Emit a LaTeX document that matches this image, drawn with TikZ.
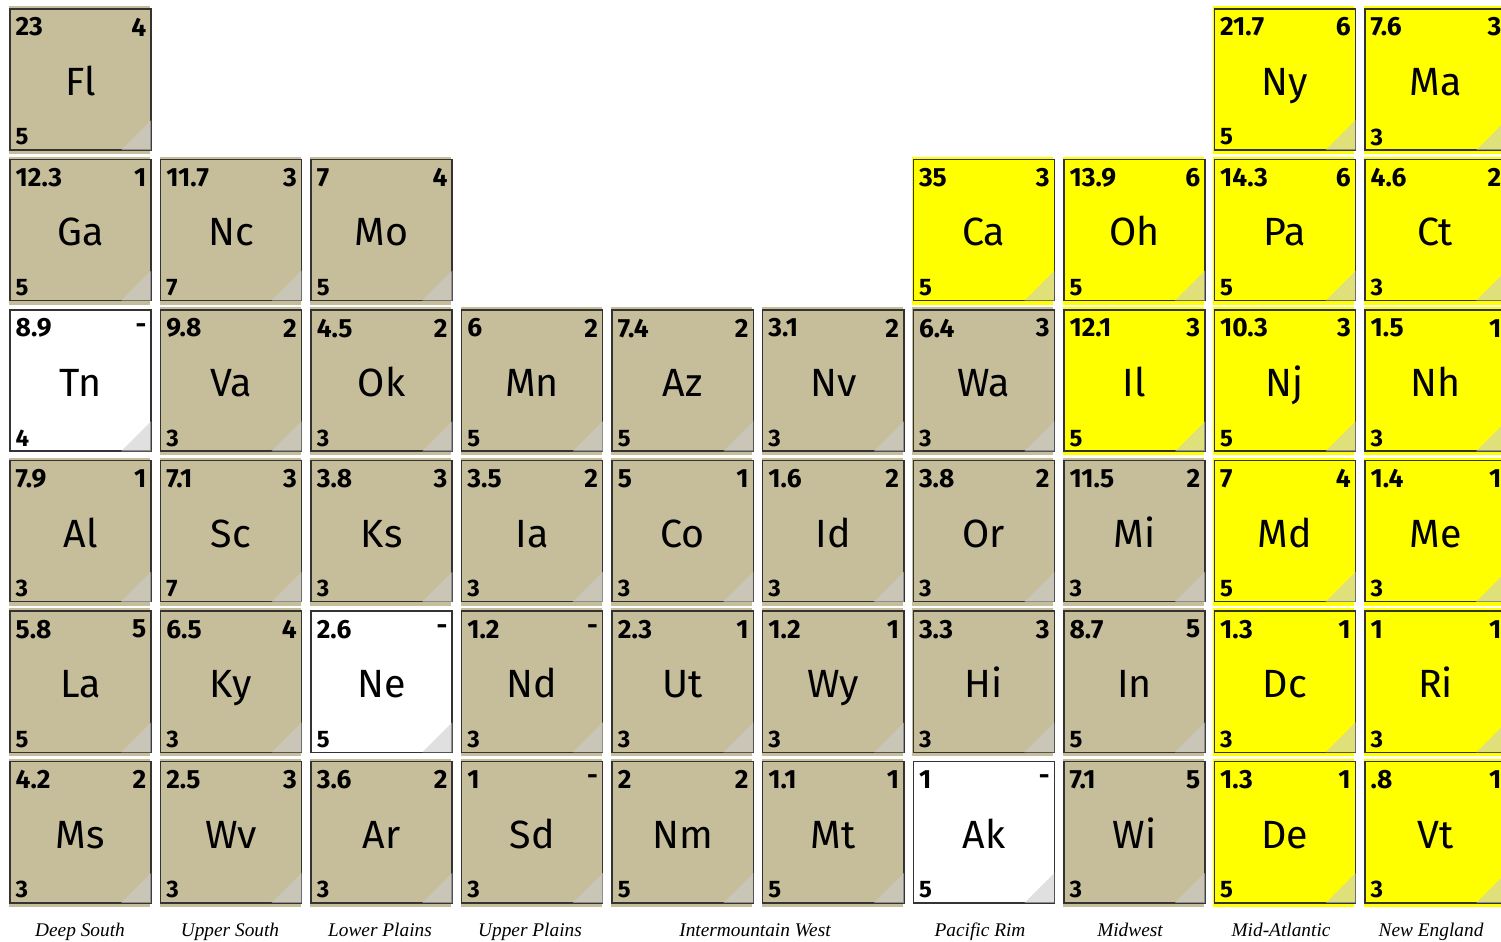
\documentclass[tikz,border=0pt]{standalone}
\usepackage{fontspec}
\newfontfamily\tilefont{Fira Sans}
\newfontfamily\regionfont{Liberation Serif}

\definecolor{regiontan}{RGB}{198,190,154}
\definecolor{regionyellow}{RGB}{255,255,0}

\tikzset{
  tile/.style={draw=black!80, line width=0.4pt, minimum size=1.41cm, inner sep=0pt,
    text height=7.6pt, text depth=0pt, font=\tilefont\fontsize{11.2}{11.2}\selectfont},
  value/.style={anchor=west, inner sep=0pt, font=\tilefont\bfseries\fontsize{7.5}{7.5}\selectfont},
  count/.style={anchor=east, inner sep=0pt, font=\tilefont\bfseries\fontsize{7.5}{7.5}\selectfont},
  small/.style={anchor=west, inner sep=0pt, font=\tilefont\bfseries\fontsize{6.8}{6.8}\selectfont},
  corner/.style={fill=gray!40, fill opacity=0.6},
  region/.style={anchor=base, inner sep=0pt, font=\regionfont\itshape\fontsize{5.5}{6}\selectfont}
}

\begin{document}
\begin{tikzpicture}[x=0.01cm,y=-0.01cm]

\clip (0,0) rectangle (1501,941);

\foreach \c/\r/\ab/\v/\n/\s/\col in {
0/0/Fl/23/4/5/regiontan, 8/0/Ny/21.7/6/5/regionyellow, 9/0/Ma/7.6/3/3/regionyellow,
0/1/Ga/12.3/1/5/regiontan, 1/1/Nc/11.7/3/7/regiontan, 2/1/Mo/7/4/5/regiontan,
6/1/Ca/35/3/5/regionyellow, 7/1/Oh/13.9/6/5/regionyellow, 8/1/Pa/14.3/6/5/regionyellow,
9/1/Ct/4.6/2/3/regionyellow,
0/2/Tn/8.9/-/4/white, 1/2/Va/9.8/2/3/regiontan, 2/2/Ok/4.5/2/3/regiontan,
3/2/Mn/6/2/5/regiontan, 4/2/Az/7.4/2/5/regiontan, 5/2/Nv/3.1/2/3/regiontan,
6/2/Wa/6.4/3/3/regiontan, 7/2/Il/12.1/3/5/regionyellow, 8/2/Nj/10.3/3/5/regionyellow,
9/2/Nh/1.5/1/3/regionyellow,
0/3/Al/7.9/1/3/regiontan, 1/3/Sc/7.1/3/7/regiontan, 2/3/Ks/3.8/3/3/regiontan,
3/3/Ia/3.5/2/3/regiontan, 4/3/Co/5/1/3/regiontan, 5/3/Id/1.6/2/3/regiontan,
6/3/Or/3.8/2/3/regiontan, 7/3/Mi/11.5/2/3/regiontan, 8/3/Md/7/4/5/regionyellow,
9/3/Me/1.4/1/3/regionyellow,
0/4/La/5.8/5/5/regiontan, 1/4/Ky/6.5/4/3/regiontan, 2/4/Ne/2.6/-/5/white,
3/4/Nd/1.2/-/3/regiontan, 4/4/Ut/2.3/1/3/regiontan, 5/4/Wy/1.2/1/3/regiontan,
6/4/Hi/3.3/3/3/regiontan, 7/4/In/8.7/5/5/regiontan, 8/4/Dc/1.3/1/3/regionyellow,
9/4/Ri/1/1/3/regionyellow,
0/5/Ms/4.2/2/3/regiontan, 1/5/Wv/2.5/3/3/regiontan, 2/5/Ar/3.6/2/3/regiontan,
3/5/Sd/1/-/3/regiontan, 4/5/Nm/2/2/5/regiontan, 5/5/Mt/1.1/1/5/regiontan,
6/5/Ak/1/-/5/white, 7/5/Wi/7.1/5/3/regiontan, 8/5/De/1.3/1/5/regionyellow,
9/5/Vt/.8/1/3/regionyellow}
{
\pgfmathsetmacro{\x}{10+150.55*\c}
\pgfmathsetmacro{\y}{9+150.55*\r}
\fill[\col] (\x-1,\y-3) rectangle (\x+140,\y+145);
\node[tile,fill=\col] (\ab) at (\x+70.5,\y+70.5) {};
\fill[corner] ([shift={(-0.6,-0.6)}]\ab.south east) -- ++(-30,0) -- ++(30,-30) -- cycle;
\node[tile,draw=none] (\ab-t) at (\x+70.5,\y+73) {\ab};
\node[value] (\ab-v) at (\x+5,\y+18) {\v};
\node[count] (\ab-n) at (\x+137,\y+18) {\n};
\node[small] (\ab-s) at (\x+5,\y+128) {\s};
}

% regions
\node[region] (deepsouth) at (80,936) {Deep South};
\node[region] (uppersouth) at (230,936) {Upper South};
\node[region] (lowerplains) at (380,936) {Lower Plains};
\node[region] (upperplains) at (530,936) {Upper Plains};
\node[region] (intermountain) at (755,936) {Intermountain West};
\node[region] (pacificrim) at (980,936) {Pacific Rim};
\node[region] (midwest) at (1130,936) {Midwest};
\node[region] (midatlantic) at (1281,936) {Mid-Atlantic};
\node[region] (newengland) at (1431,936) {New England};

\end{tikzpicture}
\end{document}
